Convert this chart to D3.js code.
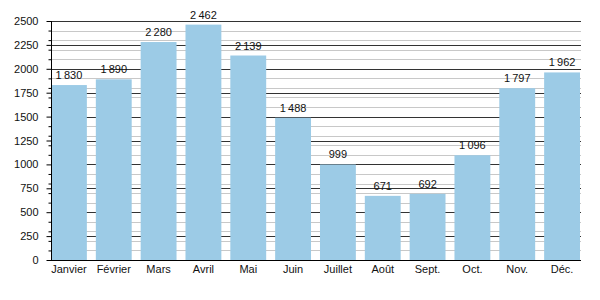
<!DOCTYPE html>
<html>
<head>
<meta charset="utf-8">
<script src="https://cdn.jsdelivr.net/npm/d3@7"></script>
<style>
  body { margin: 0; background: #fff; }
  svg { font-family: "Liberation Sans", Arial, sans-serif; }
</style>
</head>
<body>
<div id="chart"></div>
<script>
(function(){
  'use strict';

  var months = ['Janvier','Février','Mars','Avril','Mai','Juin','Juillet','Août','Sept.','Oct.','Nov.','Déc.'];
  var values = [1830,1890,2280,2462,2139,1488,999,671,692,1096,1797,1962];
  var majorTicks = [0,250,500,750,1000,1250,1500,1750,2000,2250,2500];

  var w = 600, h = 300,
      left = 51, right = 581, top = 21, bottom = 260;

  var svg = d3.select('#chart').append('svg')
    .attr('width', w)
    .attr('height', h);

  var x = d3.scaleBand()
    .domain(months)
    .range([left, right - 1])
    .paddingInner(0.2)
    .paddingOuter(0);

  var y = d3.scaleLinear()
    .domain([0, 2500])
    .range([bottom, top]);

  var minorTicks = d3.range(100, 2500, 100).filter(function(v){ return v % 250 !== 0; });

  // grid lines, minor ones light, major ones dark
  svg.append('g').selectAll('line')
    .data(minorTicks)
    .enter().append('line')
    .attr('x1', left).attr('x2', right)
    .attr('y1', function(d){ return Math.round(y(d)) + 0.5; })
    .attr('y2', function(d){ return Math.round(y(d)) + 0.5; })
    .style('stroke', '#c8c8c8');

  svg.append('g').selectAll('line')
    .data(majorTicks.slice(1))
    .enter().append('line')
    .attr('x1', left).attr('x2', right)
    .attr('y1', function(d){ return Math.round(y(d)) + 0.5; })
    .attr('y2', function(d){ return Math.round(y(d)) + 0.5; })
    .style('stroke', '#333');

  svg.selectAll('.bar')
    .data(values)
    .enter().append('rect')
    .attr('class', 'bar')
    .attr('x', function(d, i){ return x(months[i]); })
    .attr('width', x.bandwidth())
    .attr('y', function(d){ return y(d); })
    .attr('height', function(d){ return y(0) - y(d); })
    .style('fill', '#9ccbe6');

  var fmt = d3.formatLocale({decimal: ',', thousands: '\u2009', grouping: [3], currency: ['', ' €']}).format(',d');

  svg.selectAll('.val')
    .data(values)
    .enter().append('text')
    .attr('class', 'val')
    .attr('x', function(d, i){ return x(months[i]) + x.bandwidth() / 2; })
    .attr('y', function(d){ return y(d) - 6; })
    .attr('text-anchor', 'middle')
    .style('font-size', '11px')
    .style('fill', '#111')
    .text(function(d){ return fmt(d); });

  // y axis with major and minor ticks
  var yAxis = d3.axisLeft(y)
    .tickValues(majorTicks)
    .tickSize(5)
    .tickPadding(8)
    .tickFormat(d3.format('d'));

  var gy = svg.append('g')
    .attr('transform', 'translate(' + (left + 0.5) + ',0)')
    .call(yAxis);
  gy.select('.domain').attr('d', 'M0,' + top + 'V' + (bottom + 0.5));
  gy.selectAll('text').style('font-size', '11px').style('fill', '#111');

  svg.append('g')
    .attr('transform', 'translate(' + (left + 0.5) + ',0)')
    .call(d3.axisLeft(y).tickValues(minorTicks).tickSize(3).tickFormat(''))
    .select('.domain').remove();

  var xAxis = d3.axisBottom(x).tickSize(0).tickPadding(5);
  var gx = svg.append('g')
    .attr('transform', 'translate(0,' + (bottom + 0.5) + ')')
    .call(xAxis);
  gx.select('.domain').attr('d', 'M' + left + ',0H' + right).style('stroke', '#000');
  gx.selectAll('text').style('font-size', '11px').style('fill', '#111');
}());
</script>
</body>
</html>
